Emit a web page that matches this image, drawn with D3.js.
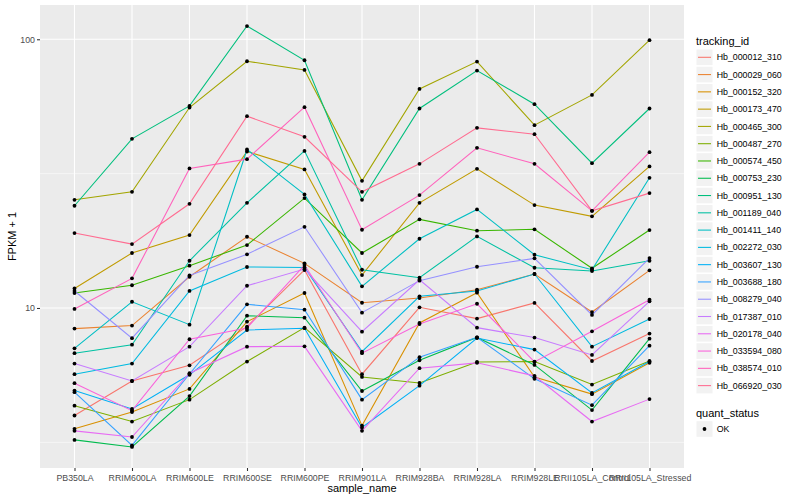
<!DOCTYPE html>
<html>
<head>
<meta charset="utf-8">
<script src="https://cdn.jsdelivr.net/npm/d3@7"></script>
<style>
  body { margin: 0; background: #fff; }
  text { font-family: "Liberation Sans", Arial, Helvetica, sans-serif; }
</style>
</head>
<body>
<svg width="800" height="500"></svg>
<script>
// categories
const samples = ['PB350LA', 'RRIM600LA', 'RRIM600LE', 'RRIM600SE', 'RRIM600PE', 'RRIM901LA',
    'RRIM928BA', 'RRIM928LA', 'RRIM928LE', 'RRII105LA_Control', 'RRII105LA_Stressed'];

const trackingIds = ['Hb_000012_310', 'Hb_000029_060', 'Hb_000152_320', 'Hb_000173_470',
    'Hb_000465_300', 'Hb_000487_270', 'Hb_000574_450', 'Hb_000753_230', 'Hb_000951_130',
    'Hb_001189_040', 'Hb_001411_140', 'Hb_002272_030', 'Hb_003607_130', 'Hb_003688_180',
    'Hb_008279_040', 'Hb_017387_010', 'Hb_020178_040', 'Hb_033594_080', 'Hb_038574_010',
    'Hb_066920_030'];

// FPKM + 1 per sample, one array per tracking id
const hb_000012_310 = [3.98, 5.35, 6.12, 8.52, 13.85, 5.67, 10.06, 9.13, 10.44, 6.35, 8.03];
const hb_000029_060 = [8.38, 8.60, 13.07, 18.41, 14.66, 10.46, 10.89, 11.70, 13.38, 9.66, 13.81];
const hb_000152_320 = [3.55, 4.10, 5.00, 8.89, 11.37, 3.65, 8.80, 11.40, 5.53, 4.78, 6.25];
const hb_000173_470 = [11.82, 16.02, 18.68, 38.23, 32.77, 13.26, 24.63, 32.94, 24.15, 21.93, 33.63];
const hb_000465_300 = [25.27, 27.06, 55.73, 82.83, 76.88, 29.73, 65.35, 82.62, 47.90, 62.07, 99.2];
const hb_000487_270 = [4.33, 3.78, 4.56, 6.32, 8.45, 5.54, 5.26, 6.30, 6.32, 5.19, 6.35];
const hb_000574_450 = [11.37, 12.15, 14.37, 17.15, 25.64, 16.02, 21.37, 19.39, 19.62, 14.05, 19.50];
const hb_000753_230 = [3.23, 3.04, 4.70, 9.36, 9.20, 4.91, 6.39, 7.77, 6.14, 4.17, 7.69];
const hb_000951_130 = [24.01, 42.60, 56.49, 112.0, 83.54, 25.27, 55.26, 76.48, 57.33, 34.59, 55.26];
const hb_001189_040 = [6.79, 7.30, 14.99, 24.63, 38.43, 13.88, 12.96, 18.47, 14.12, 13.73, 14.99];
const hb_001411_140 = [7.08, 10.55, 8.67, 38.90, 26.46, 12.04, 18.10, 23.27, 15.78, 13.88, 30.51];
const hb_002272_030 = [5.67, 6.21, 11.57, 14.21, 14.15, 6.88, 11.05, 11.57, 13.38, 7.18, 9.10];
const hb_003607_130 = [4.93, 4.21, 5.64, 8.28, 8.41, 3.59, 5.14, 7.73, 7.00, 4.83, 6.32];
const hb_003688_180 = [4.86, 3.08, 5.68, 10.32, 9.86, 4.56, 6.56, 7.78, 5.45, 4.35, 7.24];
const hb_008279_040 = [11.57, 7.72, 13.21, 15.84, 20.05, 9.61, 12.64, 14.24, 15.30, 9.42, 15.34];
const hb_017387_010 = [6.21, 5.35, 7.18, 12.10, 13.96, 8.16, 12.74, 8.45, 7.76, 6.69, 10.59];
const hb_020178_040 = [3.49, 3.31, 5.72, 7.18, 7.20, 3.49, 5.97, 6.25, 5.59, 3.78, 4.58];
const hb_033594_080 = [5.25, 4.15, 7.65, 8.43, 14.45, 6.79, 8.72, 10.37, 6.30, 8.19, 10.74];
const hb_038574_010 = [9.92, 12.89, 33.06, 35.80, 55.87, 19.55, 26.31, 39.44, 34.39, 22.99, 38.01];
const hb_066920_030 = [19.00, 17.29, 24.42, 51.72, 43.35, 27.06, 34.39, 46.81, 44.36, 22.99, 26.76];

const seriesValues = [hb_000012_310, hb_000029_060, hb_000152_320, hb_000173_470, hb_000465_300,
    hb_000487_270, hb_000574_450, hb_000753_230, hb_000951_130, hb_001189_040, hb_001411_140,
    hb_002272_030, hb_003607_130, hb_003688_180, hb_008279_040, hb_017387_010, hb_020178_040,
    hb_033594_080, hb_038574_010, hb_066920_030];

const yTicks = [10, 100];
const quantStatus = ['OK'];

// ggplot hue palette, 20 levels
const hues = ['#F8766D', '#EA8331', '#D89000', '#C09B00', '#A3A500', '#7CAE00', '#39B600',
    '#00BB4E', '#00BF7D', '#00C1A3', '#00BFC4', '#00BAE0', '#00B0F6', '#35A2FF', '#9590FF',
    '#C77CFF', '#E76BF3', '#FA62DB', '#FF62BC', '#FF6C91'];

const svg = d3.select('svg');
const panel = {left: 40, right: 684, top: 5, bottom: 468};

const x = d3.scalePoint().domain(samples).range([panel.left, panel.right]).padding(0.6);

const all = seriesValues.flat();
const lo = Math.log10(d3.min(all)), hi = Math.log10(d3.max(all));
const pad = (hi - lo) * 0.05;
const y = d3.scaleLog()
    .domain([Math.pow(10, lo - pad), Math.pow(10, hi + pad)])
    .range([panel.bottom, panel.top]);

const colour = d3.scaleOrdinal().domain(trackingIds).range(hues);

// panel + grid
svg.append('rect')
    .attr('x', panel.left).attr('y', panel.top)
    .attr('width', panel.right - panel.left).attr('height', panel.bottom - panel.top)
    .attr('fill', '#EBEBEB');

const minor = [Math.sqrt(10), Math.sqrt(1000)].filter(v => v > y.domain()[0] && v < y.domain()[1]);
svg.append('g').selectAll('line').data(minor).join('line')
    .attr('x1', panel.left).attr('x2', panel.right)
    .attr('y1', d => y(d)).attr('y2', d => y(d))
    .attr('stroke', '#fff').attr('stroke-width', 0.55);

svg.append('g').selectAll('line').data(yTicks).join('line')
    .attr('x1', panel.left).attr('x2', panel.right)
    .attr('y1', d => y(d)).attr('y2', d => y(d))
    .attr('stroke', '#fff').attr('stroke-width', 1.1);

svg.append('g').selectAll('line').data(samples).join('line')
    .attr('x1', d => x(d)).attr('x2', d => x(d))
    .attr('y1', panel.top).attr('y2', panel.bottom)
    .attr('stroke', '#fff').attr('stroke-width', 1.1);

// lines
const line = d3.line()
    .x((d, i) => x(samples[i]))
    .y(d => y(d));

svg.append('g').selectAll('path').data(seriesValues).join('path')
    .attr('d', line)
    .attr('fill', 'none')
    .attr('stroke', (d, i) => colour(trackingIds[i]))
    .attr('stroke-width', 1.07);

// points
const pts = seriesValues.flatMap(s => s.map((v, i) => ({sample: samples[i], v: v})));
svg.append('g').selectAll('circle').data(pts).join('circle')
    .attr('cx', d => x(d.sample))
    .attr('cy', d => y(d.v))
    .attr('r', 1.9)
    .attr('fill', '#000');

// axes
const xAxis = svg.append('g')
    .attr('transform', `translate(0,${panel.bottom})`)
    .call(d3.axisBottom(x).tickSize(3).tickPadding(4));
const yAxis = svg.append('g')
    .attr('transform', `translate(${panel.left},0)`)
    .call(d3.axisLeft(y).tickValues(yTicks).tickFormat(d3.format('d')).tickSize(3).tickPadding(2));

[xAxis, yAxis].forEach(a => {
    a.select('.domain').remove();
    a.selectAll('.tick line').attr('stroke', '#333').attr('stroke-width', 1.07);
    a.selectAll('.tick text').attr('fill', '#4D4D4D').style('font-size', '8.8px')
        .style('font-family', '"Liberation Sans", Arial, sans-serif');
});

svg.append('text')
    .attr('x', (panel.left + panel.right) / 2).attr('y', 492)
    .attr('text-anchor', 'middle').style('font-size', '11px')
    .text('sample_name');

svg.append('text')
    .attr('transform', `translate(16,${(panel.top + panel.bottom) / 2}) rotate(-90)`)
    .attr('text-anchor', 'middle').style('font-size', '11px')
    .text('FPKM + 1');

// legend: tracking_id
const lg = svg.append('g').attr('transform', 'translate(696,0)');
lg.append('text').attr('x', 0).attr('y', 44.5).style('font-size', '11px').text('tracking_id');

const keyY = i => 57.3 + 17.28 * i;
const keys = lg.selectAll('g.key').data(trackingIds).join('g')
    .attr('class', 'key')
    .attr('transform', (d, i) => `translate(0,${keyY(i)})`);
keys.append('rect')
    .attr('x', 0.5).attr('y', -7.8).attr('width', 16).attr('height', 15.6)
    .attr('fill', '#F2F2F2');
keys.append('line')
    .attr('x1', 2).attr('x2', 15).attr('y1', 0).attr('y2', 0)
    .attr('stroke', d => colour(d)).attr('stroke-width', 1.07);
keys.append('text')
    .attr('x', 20.7).attr('dy', '0.35em')
    .style('font-size', '8.8px')
    .text(d => d);

// legend: quant_status
lg.append('text').attr('x', 0).attr('y', 416.5).style('font-size', '11px').text('quant_status');
const qk = lg.selectAll('g.qkey').data(quantStatus).join('g')
    .attr('class', 'qkey')
    .attr('transform', (d, i) => `translate(0,${429 + 17.28 * i})`);
qk.append('rect')
    .attr('x', 0.5).attr('y', -7.8).attr('width', 16).attr('height', 15.6)
    .attr('fill', '#F2F2F2');
qk.append('circle').attr('cx', 8.5).attr('cy', 0).attr('r', 1.9).attr('fill', '#000');
qk.append('text').attr('x', 20.7).attr('dy', '0.35em').style('font-size', '8.8px').text(d => d);
</script>
</body>
</html>
